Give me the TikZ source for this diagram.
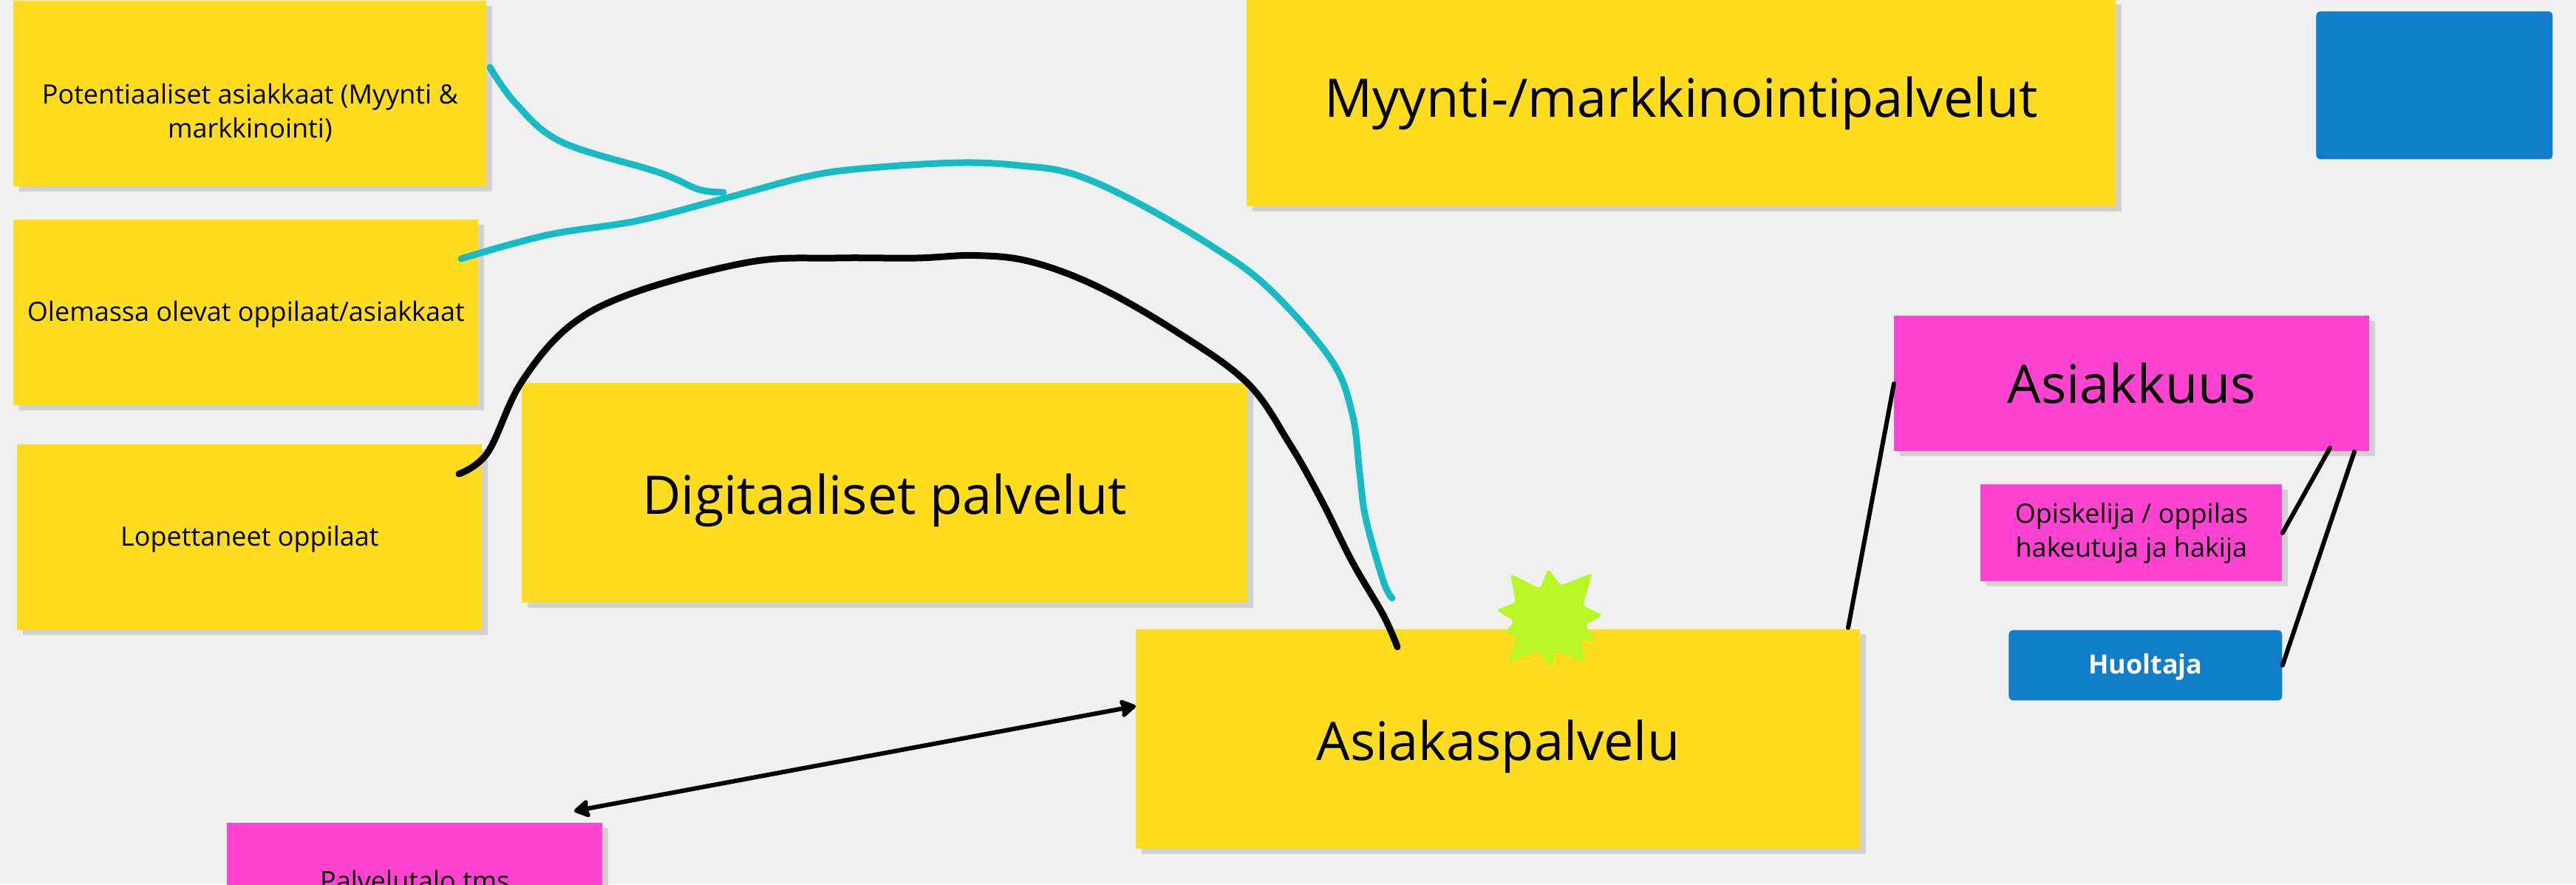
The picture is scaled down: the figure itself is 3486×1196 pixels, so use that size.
\documentclass[tikz,border=0pt]{standalone}
\usepackage{fontspec}
\setmainfont{Open Sans}
\usetikzlibrary{shadows,arrows.meta}
\definecolor{paper}{HTML}{F0F0F0}
\definecolor{sticky}{HTML}{FFDD1E}
\definecolor{pinkish}{HTML}{FF42CF}
\definecolor{bluish}{HTML}{107DC9}
\definecolor{tealish}{HTML}{17BBC3}
\definecolor{limeish}{HTML}{B9F626}
\tikzset{
  boxsize/.style 2 args={minimum width=#1,minimum height=#2},
  note/.style={anchor=north west,inner sep=0pt,align=center,
    font=\fontsize{18}{23}\selectfont,
    drop shadow={shadow xshift=4pt,shadow yshift=-3.5pt,fill=black!18,opacity=1}},
  bignote/.style={note,font=\fontsize{36}{46}\selectfont},
  yellownote/.style={note,fill=sticky},
  bigyellow/.style={bignote,fill=sticky},
  pinknote/.style={note,fill=pinkish},
  bluebox/.style={anchor=north west,inner sep=0pt,fill=bluish,rounded corners=3pt,
    text=white,font=\fontsize{18}{23}\selectfont\bfseries},
  lowbig/.style={text height=36.5pt,text depth=8pt},
  lowsmall/.style={text height=16pt,text depth=4pt},
  penline/.style={line width=3pt,line cap=round,line join=round},
  marker/.style={line width=4.5pt,line cap=round,line join=round},
  curve/.style={smooth,tension=.6},
}
\begin{document}
\begin{tikzpicture}[x=.5pt,y=-.5pt]
\useasboundingbox (0,0) rectangle (3486,1196);
\clip (0,0) rectangle (3486,1196);
\fill[paper] (0,0) rectangle (3486,1196);
% sticky notes
\node[yellownote,boxsize={320pt}{125.5pt}] (potentiaaliset) at (18,1) {\strut\\Potentiaaliset asiakkaat (Myynti \&\\markkinointi)};
\node[yellownote,lowsmall,boxsize={314.5pt}{125.5pt}] (olemassa) at (18,297) {Olemassa olevat oppilaat/asiakkaat};
\node[yellownote,lowsmall,boxsize={314.5pt}{125.5pt}] (lopettaneet) at (23,601) {Lopettaneet oppilaat};
\node[bigyellow,lowbig,boxsize={491pt}{148.5pt}] (digitaaliset) at (706,518) {Digitaaliset palvelut};
\node[bigyellow,boxsize={588pt}{140pt}] (myynti) at (1687,-1) {Myynti-/markkinointipalvelut};
\node[bigyellow,lowbig,boxsize={490pt}{148.5pt}] (asiakaspalvelu) at (1537,851) {Asiakaspalvelu};
\node[pinknote,boxsize={254pt}{78pt}] (palvelutalo) at (307,1113) {Palvelutalo tms};
\node[pinknote,font=\fontsize{36}{46}\selectfont,boxsize={321.5pt}{91.5pt}] (asiakkuus) at (2563,427) {Asiakkuus};
\node[pinknote,boxsize={204pt}{65.5pt}] (opiskelija) at (2680,655) {Opiskelija / oppilas\\hakeutuja ja hakija};
\node[bluebox,lowsmall,boxsize={185pt}{47.5pt}] (huoltaja) at (2718,852) {Huoltaja};
\node[bluebox,boxsize={160pt}{100pt}] (tyhja) at (3134,15) {};
% burst
\fill[limeish,rounded corners=2pt] (2095,769) -- (2112,792) -- (2155,775) -- (2142,819) -- (2169,832)
  -- (2145,845) -- (2159,867) -- (2138,866) -- (2146,896) -- (2105,881) -- (2100,902) -- (2081,880.5)
  -- (2041,896) -- (2054,860) -- (2036,857) -- (2049,840) -- (2024.5,825) -- (2051,815) -- (2044,776)
  -- (2084,796) -- cycle;
% free ends
\coordinate (potStart) at (663,91);
\coordinate (potEnd) at (979,260);
\coordinate (olemStart) at (624,350);
\coordinate (olemEnd) at (1884,809);
\coordinate (lopStart) at (621,641);
\coordinate (lopEnd) at (1891,875);
\coordinate (asiakasTop) at (2501,849);
\coordinate (arrowFrom) at (777,1097);
\coordinate (arrowTo) at (1537,955);
\coordinate (asiakkuusA) at (3153,606);
\coordinate (asiakkuusB) at (3186,611);
% hand drawn lines
\draw[marker,tealish] plot[curve] coordinates {(potStart) (698,140) (760,192) (891,233) (945,256) (potEnd)};
\draw[marker,tealish] plot[curve] coordinates {(olemStart) (740,318) (863,298.5) (982,268) (1100,237) (1191,226) (1303,220) (1381,224) (1451,235) (1535,272) (1640,333) (1717,390) (1801,486) (1830,560) (1840,640) (1848,700) (1872,786) (olemEnd)};
\draw[marker] plot[curve] coordinates {(lopStart) (660,612) (705,518) (772,440) (863,394) (1017,354) (1130,349) (1240,349) (1320,345.5) (1395,354) (1486,388) (1591,448) (1688,518) (1745,600) (1788,676) (1830,760) (1872,832) (lopEnd)};
\draw[penline] (asiakkuus.west) -- (asiakasTop);
\draw[penline] (opiskelija.east) -- (asiakkuusA);
\draw[penline] (huoltaja.east) -- (asiakkuusB);
\draw[penline,{Stealth[length=12pt,width=14pt,inset=1.5pt,round]}-{Stealth[length=12pt,width=14pt,inset=1.5pt,round]}] (arrowFrom) -- (arrowTo);
\end{tikzpicture}
\end{document}
